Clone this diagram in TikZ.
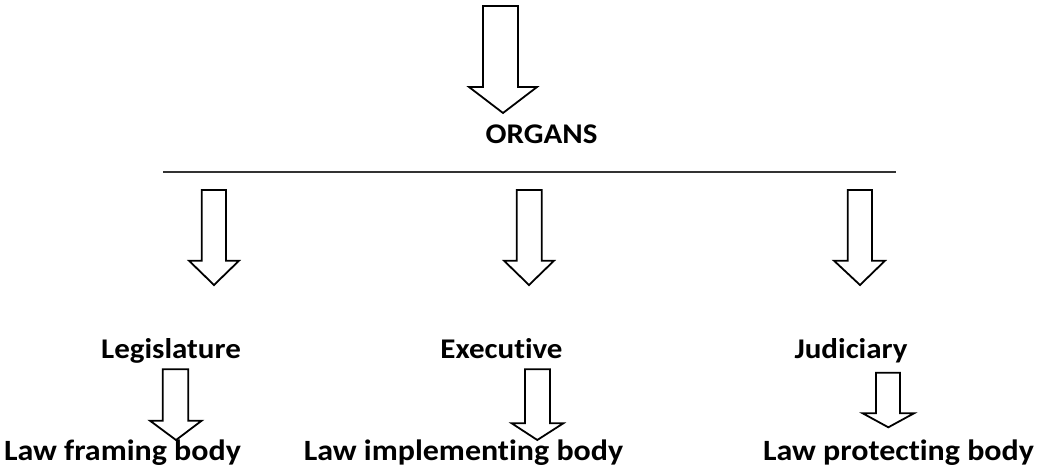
\documentclass[tikz,border=0pt]{standalone}
\usepackage{graphicx}
\usepackage{fontspec}
\setmainfont{Carlito}[Ligatures=NoCommon]
\newcommand\blockarr[8]{%
  \draw[blockline] (#1,#3) -- (#2,#3) -- (#2,#4) -- (#6,#4) -- (#7,#8) -- (#5,#4) -- (#1,#4) -- cycle;}
\newcommand\sqz[1]{\scalebox{1}[0.92]{#1}}
\begin{document}
\begin{tikzpicture}[x=1pt,y=-1pt,
  blockline/.style={draw=black,line width=1.8pt,line join=miter,fill=white},
  lbl/.style={font=\fontsize{31}{36}\selectfont\bfseries,inner sep=0pt,anchor=base},
  lblb/.style={lbl,font=\fontsize{32}{38}\selectfont\bfseries},
  rule/.style={draw=black!80,line width=2pt}]
\useasboundingbox (0,0) rectangle (1046,472);
% top arrow
\blockarr{483}{518}{6}{87}{469}{537}{503}{113}
\node[lbl] (organs) at (541.5,143) {\sqz{ORGANS}};
% horizontal rule
\coordinate (rl) at (163,171.5);
\coordinate (rr) at (896,171.5);
\draw[rule] (rl) -- (rr);
% middle arrows
\blockarr{201.7}{226}{190}{260.7}{189}{239}{214}{285}
\blockarr{516.7}{541.7}{190}{260.7}{504}{554}{529}{285}
\blockarr{847.7}{872}{190}{260.7}{834}{885}{860}{285}
% organ labels
\node[lbl] (leg) at (171,358) {\sqz{Legislature}};
\node[lbl] (exe) at (501.5,358) {\sqz{Executive}};
\node[lbl] (jud) at (851,358) {\sqz{Judiciary}};
% lower arrows
\blockarr{162.7}{188.3}{369.3}{420.7}{150}{201.7}{176}{440}
\blockarr{525}{550}{369.3}{423.3}{511.7}{563.3}{537.3}{440}
\blockarr{876}{900}{372.7}{413.3}{862.7}{914}{888.3}{427.3}
% body labels
\node[lblb] (lfb) at (122.5,460) {\sqz{Law framing body}};
\node[lblb] (lib) at (463.5,460) {\sqz{Law implementing body}};
\node[lblb] (lpb) at (898.5,460) {\sqz{Law protecting body}};
\end{tikzpicture}
\end{document}
